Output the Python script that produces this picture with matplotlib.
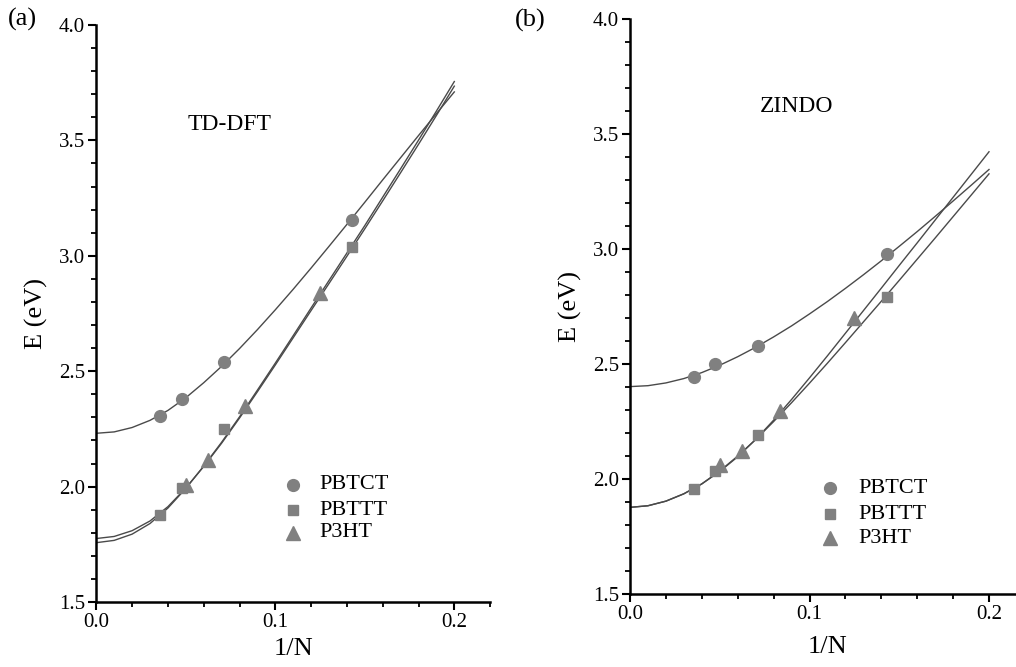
import matplotlib
matplotlib.use("Agg")
import matplotlib.pyplot as plt
from matplotlib.ticker import MultipleLocator, FormatStrFormatter

plt.rcParams['font.family'] = ['Liberation Serif', 'DejaVu Serif']

# ---------------- data ----------------
series_names = ["PBTCT", "PBTTT", "P3HT"]

x_pbtct = [0.0357, 0.0476, 0.0714, 0.1429]
x_pbttt = [0.0357, 0.0476, 0.0714, 0.1429]
x_p3ht = [0.0500, 0.0625, 0.0833, 0.1250]

# (a) TD-DFT
a_pbtct = [2.306, 2.379, 2.540, 3.156]
a_pbttt = [1.878, 1.993, 2.251, 3.037]
a_p3ht = [2.005, 2.115, 2.351, 2.840]

# (b) ZINDO
b_pbtct = [2.443, 2.500, 2.578, 2.979]
b_pbttt = [1.958, 2.035, 2.193, 2.794]
b_p3ht = [2.060, 2.125, 2.295, 2.700]

# fitted curves
fit_x = [0.00, 0.01, 0.02, 0.03, 0.04, 0.05, 0.06, 0.07, 0.08, 0.09, 0.10,
         0.11, 0.12, 0.13, 0.14, 0.15, 0.16, 0.17, 0.18, 0.19, 0.20]

fit_a_pbtct = [2.231, 2.237, 2.256, 2.287, 2.330, 2.385, 2.450, 2.521, 2.598, 2.680, 2.766,
               2.855, 2.947, 3.041, 3.136, 3.232, 3.329, 3.425, 3.521, 3.616, 3.710]
fit_a_pbttt = [1.775, 1.784, 1.809, 1.851, 1.913, 1.994, 2.087, 2.188, 2.297, 2.411, 2.527,
               2.645, 2.763, 2.880, 2.998, 3.117, 3.238, 3.360, 3.483, 3.608, 3.735]
fit_a_p3ht = [1.757, 1.767, 1.794, 1.840, 1.907, 1.992, 2.089, 2.192, 2.302, 2.418, 2.535,
              2.654, 2.774, 2.893, 3.012, 3.131, 3.254, 3.377, 3.501, 3.627, 3.755]

fit_b_pbtct = [2.403, 2.407, 2.419, 2.438, 2.464, 2.496, 2.533, 2.574, 2.619, 2.667, 2.719,
               2.773, 2.830, 2.889, 2.950, 3.013, 3.077, 3.143, 3.210, 3.278, 3.347]
fit_b_pbttt = [1.878, 1.885, 1.905, 1.937, 1.980, 2.036, 2.101, 2.173, 2.251, 2.333, 2.418,
               2.505, 2.594, 2.684, 2.774, 2.865, 2.957, 3.049, 3.142, 3.235, 3.328]
fit_b_p3ht = [1.878, 1.885, 1.905, 1.937, 1.980, 2.034, 2.098, 2.173, 2.257, 2.347, 2.441,
              2.537, 2.635, 2.733, 2.831, 2.930, 3.028, 3.127, 3.226, 3.325, 3.424]

panel_labels = ["(a)", "(b)"]
method_labels = ["TD-DFT", "ZINDO"]
x_label = "1/N"
y_label = "E (eV)"

# ---------------- figure ----------------
W, H = 1016, 667
fig = plt.figure(figsize=(W / 100, H / 100), dpi=100)
fig.patch.set_facecolor("white")

ax_a = fig.add_axes([96.3 / W, (H - 602) / H, 393.8 / W, 577 / H])
ax_b = fig.add_axes([630 / W, (H - 594.3) / H, 394.9 / W, 575 / H])

marker_color = "#808080"
line_color = "#4a4a4a"
markers = ["o", "s", "^"]
msizes = [8.5, 7.5, 9.5]


def style(ax, xpad):
    ax.set_xlim(0, 0.22)
    ax.set_ylim(1.5, 4.0)
    for s in ["top", "right"]:
        ax.spines[s].set_visible(False)
    for s in ["left", "bottom"]:
        ax.spines[s].set_linewidth(1.8)
        ax.spines[s].set_color("black")
    ax.xaxis.set_major_locator(MultipleLocator(0.1))
    ax.xaxis.set_minor_locator(MultipleLocator(0.02))
    ax.yaxis.set_major_locator(MultipleLocator(0.5))
    ax.yaxis.set_minor_locator(MultipleLocator(0.1))
    ax.xaxis.set_major_formatter(FormatStrFormatter("%.1f"))
    ax.yaxis.set_major_formatter(FormatStrFormatter("%.1f"))
    ax.tick_params(which="major", direction="out", length=6, width=1.5,
                   labelsize=15, colors="black", pad=2)
    ax.tick_params(which="minor", direction="out", length=3.5, width=1.3)
    ax.set_xlabel(x_label, fontsize=19, labelpad=xpad)
    ax.set_ylabel(y_label, fontsize=19, labelpad=8)
    ax.patch.set_alpha(0)


def draw(ax, pts, fits, method, mpos, leg):
    xs = [x_pbtct, x_pbttt, x_p3ht]
    for fy in fits:
        ax.plot(fit_x, fy, color=line_color, lw=1.0, zorder=2)
    for i, (xv, yv) in enumerate(zip(xs, pts)):
        ax.plot(xv, yv, linestyle="none", marker=markers[i], ms=msizes[i],
                color=marker_color, mec=marker_color, zorder=3)
    ax.text(mpos[0], mpos[1], method, fontsize=17, ha="center", va="center")
    lx, tx, ys = leg
    for i, name in enumerate(series_names):
        ax.plot([lx], [ys[i]], linestyle="none", marker=markers[i], ms=msizes[i],
                color=marker_color, mec=marker_color, clip_on=False)
        ax.text(tx, ys[i], name, fontsize=16, ha="left", va="center")


style(ax_a, 4)
style(ax_b, 8)

draw(ax_a, [a_pbtct, a_pbttt, a_p3ht], [fit_a_pbtct, fit_a_pbttt, fit_a_p3ht],
     method_labels[0], (0.0747, 3.567),
     (0.110, 0.1248, [2.007, 1.898, 1.800]))
draw(ax_b, [b_pbtct, b_pbttt, b_p3ht], [fit_b_pbtct, fit_b_pbttt, fit_b_p3ht],
     method_labels[1], (0.093, 3.619),
     (0.1114, 0.127, [1.960, 1.849, 1.743]))

fig.text(22 / W, 1 - 19 / H, panel_labels[0], fontsize=19, ha="center", va="center")
fig.text(530 / W, 1 - 20 / H, panel_labels[1], fontsize=19, ha="center", va="center")

fig.savefig("out.png", dpi=100, facecolor="white")
